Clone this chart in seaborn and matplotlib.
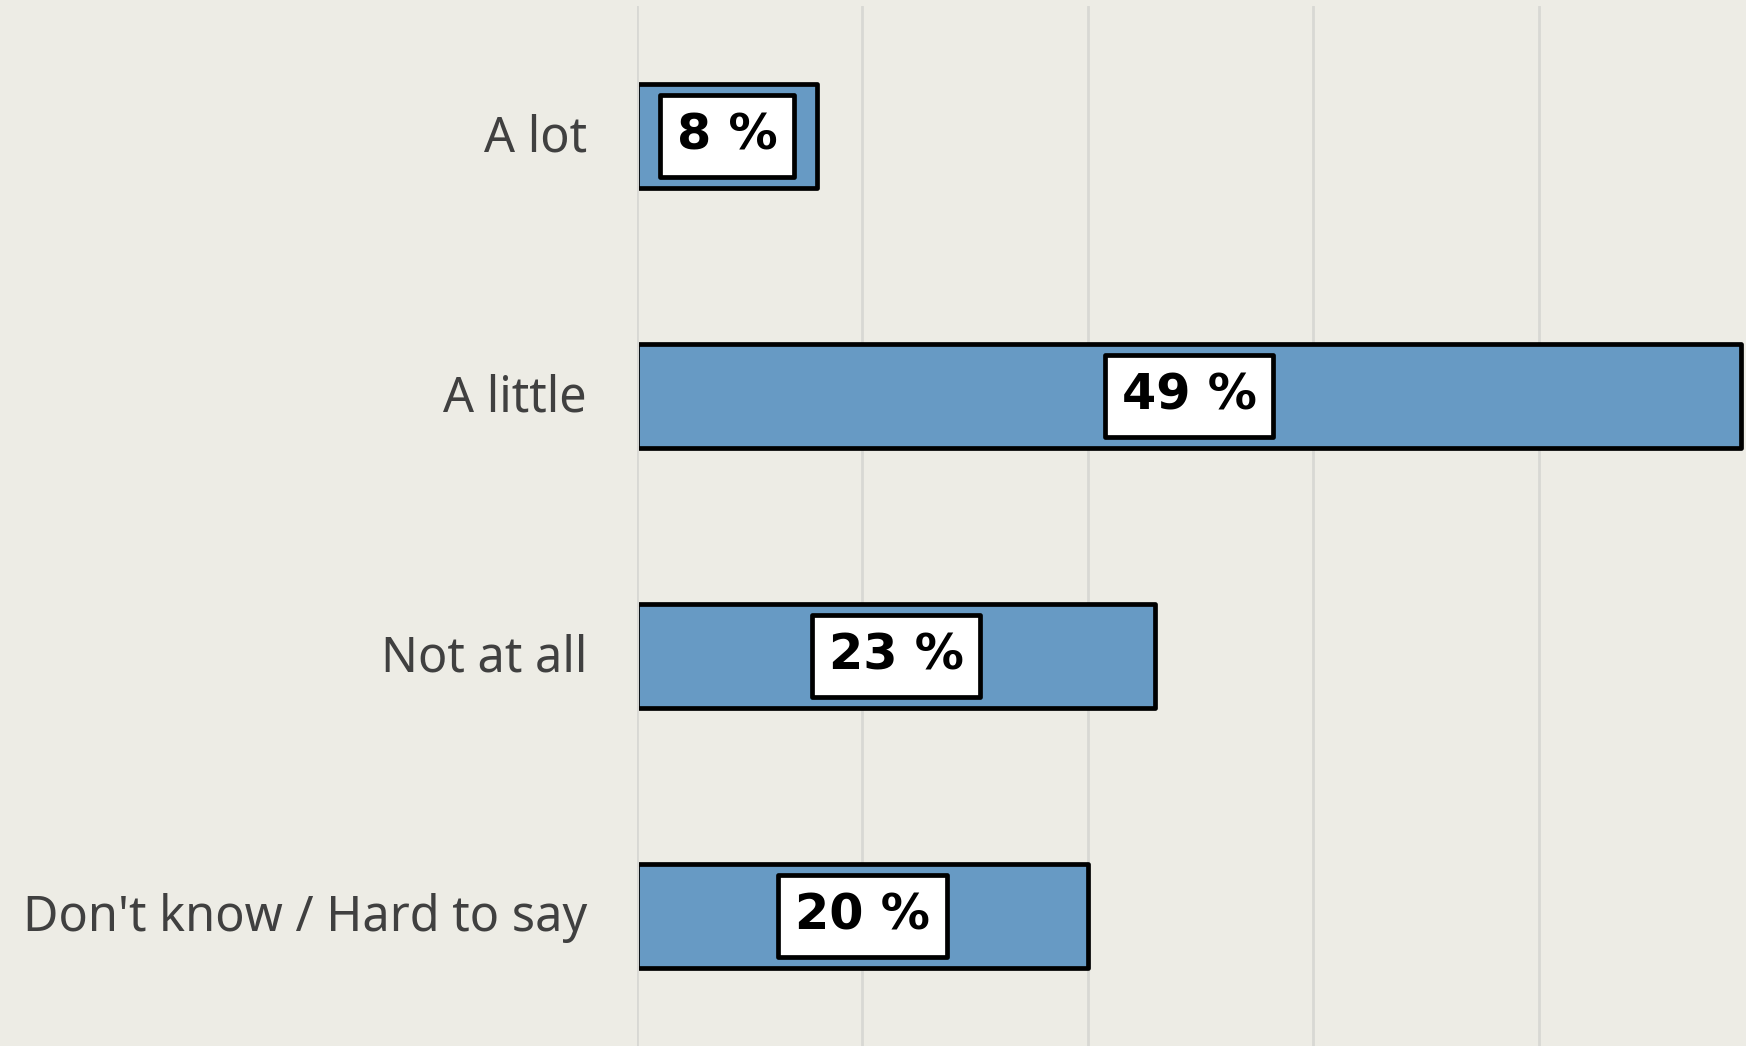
"""Horizontal bar chart of survey answers with boxed percentage labels."""

import matplotlib
matplotlib.use("Agg")
import matplotlib.pyplot as plt
import seaborn as sns
from matplotlib.patches import Rectangle
from matplotlib.transforms import ScaledTranslation

# data
categories = ["A lot", "A little", "Not at all", "Don't know / Hard to say"]
values = [8, 49, 23, 20]
x_ticks = [0, 10, 20, 30, 40]

BG = "#edece5"
BAR = "#679ac4"
EDGE_LW = 3.4

sns.set_style("white")
plt.rcParams["font.family"] = ["Noto Sans", "DejaVu Sans"]

fig = plt.figure(figsize=(17.46, 10.46), dpi=100, facecolor=BG)
ax = fig.add_axes([0.3648, 0.0, 0.6352, 0.9943], facecolor=BG)

sns.barplot(
    x=values, y=categories, orient="h", ax=ax,
    color=BAR, saturation=1, width=0.4,
    edgecolor="black", linewidth=EDGE_LW, zorder=2,
)

# hide the left edge of each bar behind the axis line
clip = Rectangle((0, 0), 1, 1, transform=ax.transAxes
                 + ScaledTranslation(EDGE_LW / 72 / 2, 0, fig.dpi_scale_trans))
for p in ax.patches:
    p.set_joinstyle("round")
    p.set_clip_path(clip)

for i, v in enumerate(values):
    ax.text(
        v / 2, i, f"{v} %", ha="center", va="center",
        fontsize=35.5, fontweight="bold", family=["DejaVu Sans"],
        color="black", zorder=3,
        bbox=dict(boxstyle="square,pad=0.34", fc="white", ec="black",
                  lw=EDGE_LW, joinstyle="round"),
    )

ax.set_xlim(0, 49.2)
ax.set_ylim(3.5, -0.5)
ax.set_xticks(x_ticks)
ax.xaxis.grid(True, color="#d8d8d4", linewidth=2, zorder=0)
ax.set_axisbelow(True)
ax.tick_params(axis="x", length=0, labelbottom=False)
ax.tick_params(axis="y", length=0, pad=36, labelsize=35, labelcolor="#404040")
nudge = ScaledTranslation(0, 0.035, fig.dpi_scale_trans)
for lbl in ax.get_yticklabels():
    lbl.set_transform(lbl.get_transform() + nudge)
ax.set_xlabel("")
ax.set_ylabel("")
for s in ax.spines.values():
    s.set_visible(False)

fig.savefig("out.png", dpi=100, facecolor=BG)
